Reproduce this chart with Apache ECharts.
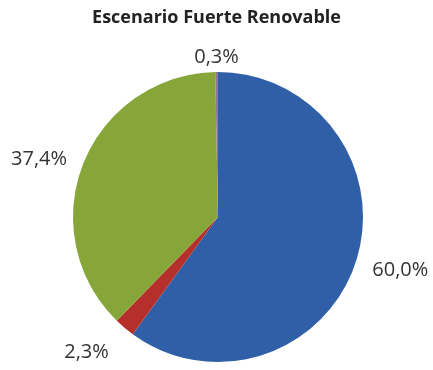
<!DOCTYPE html>
<html>
<head>
<meta charset="utf-8">
<script src="https://cdn.jsdelivr.net/npm/echarts@6/dist/echarts.min.js"></script>
<style>
  html, body { margin: 0; padding: 0; background: #fff; }
  #chart { width: 433px; height: 370px; }
</style>
</head>
<body>
<div id="chart"></div>
<script>
// Participación por fuente en el escenario
const titleText = 'Escenario Fuerte Renovable';
const categories = ['Serie A', 'Serie B', 'Serie C', 'Serie D'];
const values = [60.0, 2.3, 37.4, 0.3];
const colors = ['#2f5fa6', '#b52f2b', '#86a63a', '#8a7aa0'];

const chart = echarts.init(document.getElementById('chart'), null, { renderer: 'canvas' });

const font = '"Open Sans", "Liberation Sans", sans-serif';

// small nudges of the outside labels so they sit clear of the rim
const labelNudges = [
  { dy: 5 },
  { dx: -3, dy: 15 },
  {},
  { align: 'center', dx: 5, dy: -3 }
];

chart.setOption({
  animation: false,
  title: {
    text: titleText,
    left: 'center',
    top: 4,
    textStyle: { fontFamily: font, fontSize: 18, fontWeight: 'bold', color: '#222' }
  },
  series: [{
    type: 'pie',
    center: [218, 217],
    radius: [0, 145],
    startAngle: 90,
    clockwise: true,
    avoidLabelOverlap: false,
    data: categories.map((c, i) => ({
      name: c,
      value: values[i],
      itemStyle: { color: colors[i] }
    })),
    label: {
      show: true,
      position: 'outside',
      fontFamily: font,
      fontSize: 20,
      color: '#333',
      formatter: p => p.value.toFixed(1).replace('.', ',') + '%'
    },
    labelLine: { show: false, length: 12, length2: 0 },
    labelLayout: p => labelNudges[p.dataIndex],
    itemStyle: { borderWidth: 0 }
  }]
});
</script>
</body>
</html>
